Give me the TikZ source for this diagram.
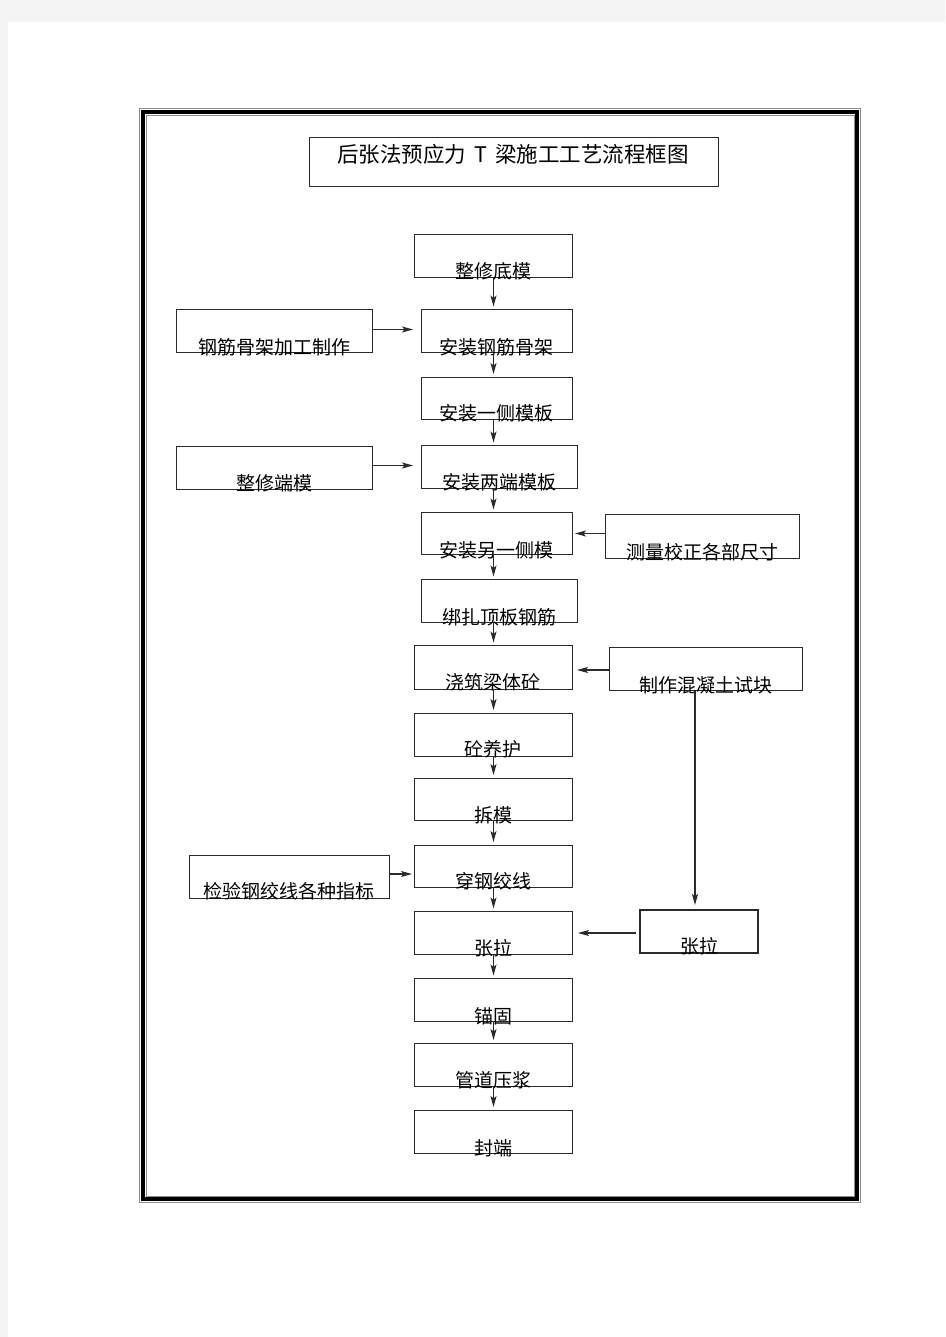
\documentclass[tikz,border=0pt]{standalone}
\usepackage{fontspec}
\newfontfamily\cjk{Noto Sans CJK SC}
\usetikzlibrary{arrows.meta,calc}
\definecolor{pagebg}{HTML}{F3F3F3}
\definecolor{ln}{HTML}{2A2A2A}
\definecolor{frgray}{HTML}{8C8C8C}
\newcommand\flowbox[7]{%
  \node[boxst,minimum width={#4-#2},minimum height={#5-#3}] (#1) at ({(#2+#4)/2},{(#3+#5)/2}) {};
  \node[txt] (#1-t) at ({(#2+#4)/2},#6) {#7};}
\begin{document}
\begin{tikzpicture}[x=1pt,y=-1pt,
  boxst/.style={draw=ln,line width=1pt,inner sep=0pt,outer sep=0pt},
  txt/.style={font=\cjk\fontsize{19}{19}\selectfont,inner sep=0pt,text=black},
  arr/.style={draw=ln,line width=1.1pt,-{Stealth[length=11pt,width=6pt,inset=2.5pt]}},
  ]
\useasboundingbox (0,0) rectangle (945,1337);
\fill[pagebg] (0,0) rectangle (945,1337);
\fill[white] (8,22) rectangle (945,1337);
% outer frame
\draw[frgray,line width=1pt] (139.5,108.5) rectangle (860.5,1202.5);
\draw[black,line width=4pt] (143,112.5) rectangle (857,1199);
\draw[frgray,line width=1pt] (146,115.5) rectangle (854,1196);
% title
\node[boxst,minimum width=409,minimum height=49] (title) at (514,162.5) {};
\node[font=\cjk\fontsize{21.5}{21.5}\selectfont,inner sep=0pt] (title-t) at (513,154) {后张法预应力\hspace{8pt}T\hspace{8pt}梁施工工艺流程框图};
% main column
\flowbox{b1}{414}{234.5}{572}{277.5}{271.5}{整修底模}
\flowbox{b2}{421}{309.5}{572}{352.5}{347}{安装钢筋骨架}
\flowbox{b3}{421}{377}{572}{419.5}{413}{安装一侧模板}
\flowbox{b4}{421}{445.5}{577}{488.5}{482.5}{安装两端模板}
\flowbox{b5}{421}{512.5}{572}{554.5}{550}{安装另一侧模}
\flowbox{b6}{421}{579.5}{577}{622.5}{617}{绑扎顶板钢筋}
\flowbox{b7}{414}{645.5}{572}{689}{682.5}{浇筑梁体砼}
\flowbox{b8}{414}{713}{572}{756}{749.5}{砼养护}
\flowbox{b9}{414}{778}{572}{820.5}{815}{拆模}
\flowbox{b10}{414}{845}{572}{887.5}{881.5}{穿钢绞线}
\flowbox{b11}{414}{911.5}{572}{954}{948}{张拉}
\flowbox{b12}{414}{978.5}{572}{1021.5}{1016}{锚固}
\flowbox{b13}{414}{1043}{572}{1086}{1080}{管道压浆}
\flowbox{b14}{414}{1110}{572}{1153}{1148}{封端}
% side boxes
\flowbox{l1}{176.5}{309.5}{372.5}{352.5}{347}{钢筋骨架加工制作}
\flowbox{l2}{176.5}{446}{372.5}{489}{483}{整修端模}
\flowbox{l3}{189}{855}{389.5}{898}{891.5}{检验钢绞线各种指标}
\flowbox{r1}{605}{514.5}{799}{558}{552}{测量校正各部尺寸}
\flowbox{r2}{609.5}{647}{802}{690.5}{685.5}{制作混凝土试块}
\node[boxst,line width=1.8pt,minimum width=118,minimum height=43] (r3) at (699,931.5) {};
\node[txt] (r3-t) at (699,946) {张拉};
% vertical flow arrows
\foreach \a/\b in {b1/b2,b2/b3,b3/b4,b4/b5,b5/b6,b6/b7,b7/b8,b8/b9,b9/b10,b10/b11,b11/b12,b12/b13,b13/b14}{
  \draw[arr,shorten >=3pt] (\a.south -| 493.5,0) -- (\b.north -| 493.5,0);
}
% side arrows
\draw[arr,shorten >=8pt] (l1.east |- 0,329.5) -- (b2.west |- 0,329.5);
\draw[arr,shorten >=8pt] (l2.east |- 0,465.5) -- (b4.west |- 0,465.5);
\draw[arr,shorten >=2pt] (l3.east |- 0,874) -- (b10.west |- 0,874);
\draw[arr,shorten >=3pt] (r1.west |- 0,533.5) -- (b5.east |- 0,533.5);
\draw[arr,shorten >=5pt] (r2.west |- 0,670) -- (b7.east |- 0,670);
\draw[arr,shorten <=4pt,shorten >=6pt] (r3.west |- 0,933) -- (b11.east |- 0,933);
\draw[arr,shorten >=5pt] (r2.south -| 695,0) -- (r3.north -| 695,0);
\end{tikzpicture}
\end{document}
